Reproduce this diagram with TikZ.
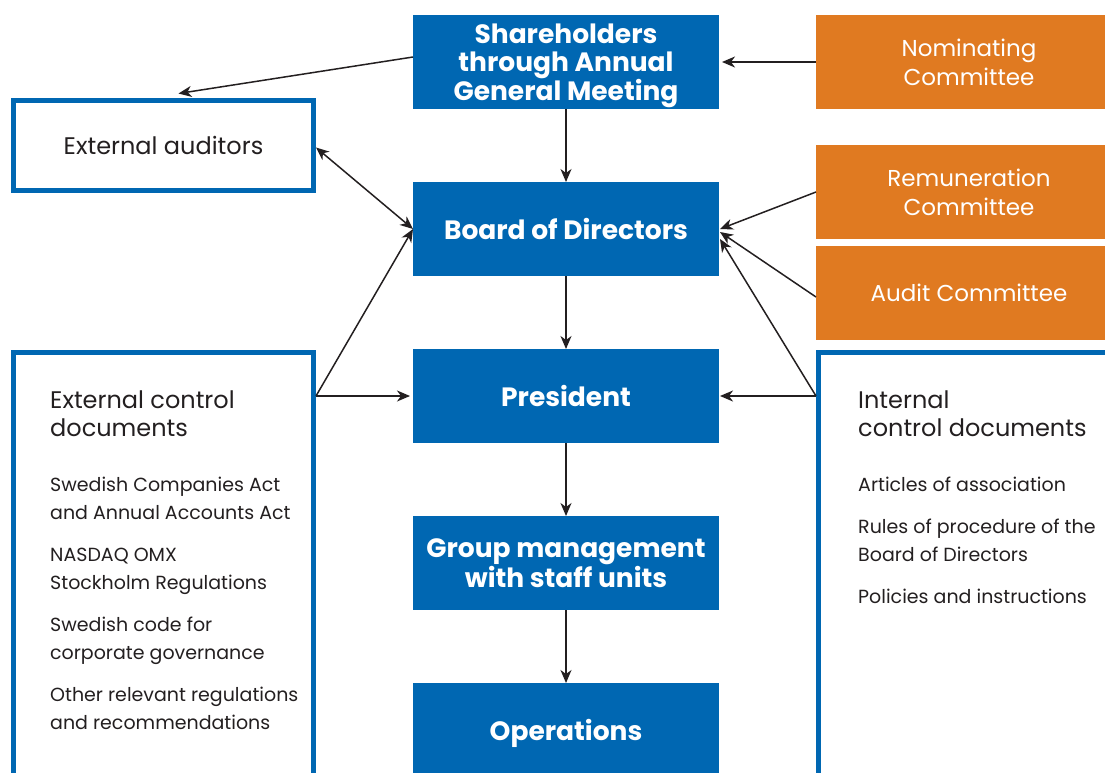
\documentclass[tikz,border=0pt]{standalone}
\usepackage{fontspec}
\setmainfont{Poppins}
\usepackage{tikz}
\usetikzlibrary{arrows.meta, positioning}
\definecolor{colorBoard}{RGB}{0,103,178}
\definecolor{colorCommittee}{RGB}{224,122,33}
\definecolor{colorText}{RGB}{35,31,32}
\newcommand{\headsize}{\fontsize{24}{29}\selectfont}
\newcommand{\itemsize}{\fontsize{19}{28}\selectfont}

\begin{document}
\begin{tikzpicture}[x=1pt, y=-1pt, >={Stealth[length=13pt, width=11pt, inset=4pt]}, node distance=73pt,
  body/.style={rectangle, fill=colorBoard, text=white, font=\bfseries\fontsize{26.5}{28}\selectfont, align=center, minimum width=306pt, minimum height=94pt, inner sep=0pt, outer sep=0pt},
  committee/.style={rectangle, fill=colorCommittee, text=white, font=\fontsize{23}{29}\selectfont, align=center, minimum width=306pt, minimum height=94pt, inner sep=0pt, outer sep=0pt},
  docbox/.style={rectangle, draw=colorBoard, line width=5pt, minimum width=300pt, inner sep=0pt, outer sep=0pt},
  doclist/.style={text=colorText, font=\itemsize, align=left, inner sep=0pt},
  link/.style={draw=colorText, line width=1.5pt}]
\useasboundingbox (0,0) rectangle (1105,772);

% main line
\node[body, text depth=0pt] (shareholders) at (566,62) {Shareholders\\through Annual\\General Meeting};
\node[body, below=of shareholders] (board) {Board of Directors};
\node[body, below=of board] (president) {President};
\node[body, below=of president] (group) {Group management\\with staff units};
\node[body, text depth=0pt, below=of group] (operations) {Operations};

% committees
\node[committee, right=97pt of shareholders] (nominating) {Nominating\\Committee};
\node[committee, below=36pt of nominating] (remuneration) {Remuneration\\Committee};
\node[committee, below=7pt of remuneration] (audit) {Audit Committee};

% auditors and control documents
\node[docbox, minimum height=90pt, text=colorText, font=\headsize] (auditors) at (163.5,145.5) {External auditors};
\node[docbox, minimum height=440pt, below=162pt of auditors] (extdocs) {};
\node[docbox, minimum height=440pt, minimum width=320pt, anchor=north west] (intdocs) at (818.5,352.5) {};
\node[doclist, below right=38pt and 36.5pt of extdocs.north west] (extlist) {\headsize External control\\\headsize documents\\[27pt]Swedish Companies Act\\and Annual Accounts Act\\[14pt]NASDAQ OMX\\Stockholm Regulations\\[14pt]Swedish code for\\corporate governance\\[14pt]Other relevant regulations\\and recommendations};
\node[doclist, below right=38pt and 39.5pt of intdocs.north west] (intlist) {\headsize Internal\\\headsize control documents\\[27pt]Articles of association\\[14pt]Rules of procedure of the\\Board of Directors\\[14pt]Policies and instructions};

\path (extdocs.north east |- president.west) ++(2.5,0) coordinate (extjoin);
\path (intdocs.north west |- president.east) ++(-2.5,0) coordinate (intjoin);

% connectors
\draw[link, ->] ([yshift=5pt]shareholders.west) -- ([xshift=15pt, yshift=7pt]auditors.north);
\draw[link, ->] (nominating.west) -- ([xshift=3pt]shareholders.east);
\draw[link, ->] (shareholders.south) -- (board.north);
\draw[link, <->] ([xshift=2.5pt, yshift=-2pt]auditors.east) -- (board.west);
\draw[link, ->] (remuneration.west) -- ([xshift=1pt]board.east);
\draw[link, ->] ([yshift=-4pt]audit.west) -- ([xshift=1pt, yshift=-3pt]board.east);
\draw[link, ->] (intjoin) -- ([xshift=1pt, yshift=-10pt]board.east);
\draw[link, ->] (intjoin) -- ([xshift=1pt]president.east);
\draw[link, ->] (extjoin) -- (board.west);
\draw[link, ->] (extjoin) -- ([xshift=-3pt]president.west);
\draw[link, ->] (board.south) -- (president.north);
\draw[link, ->] (president.south) -- (group.north);
\draw[link, ->] (group.south) -- (operations.north);
\end{tikzpicture}
\end{document}
